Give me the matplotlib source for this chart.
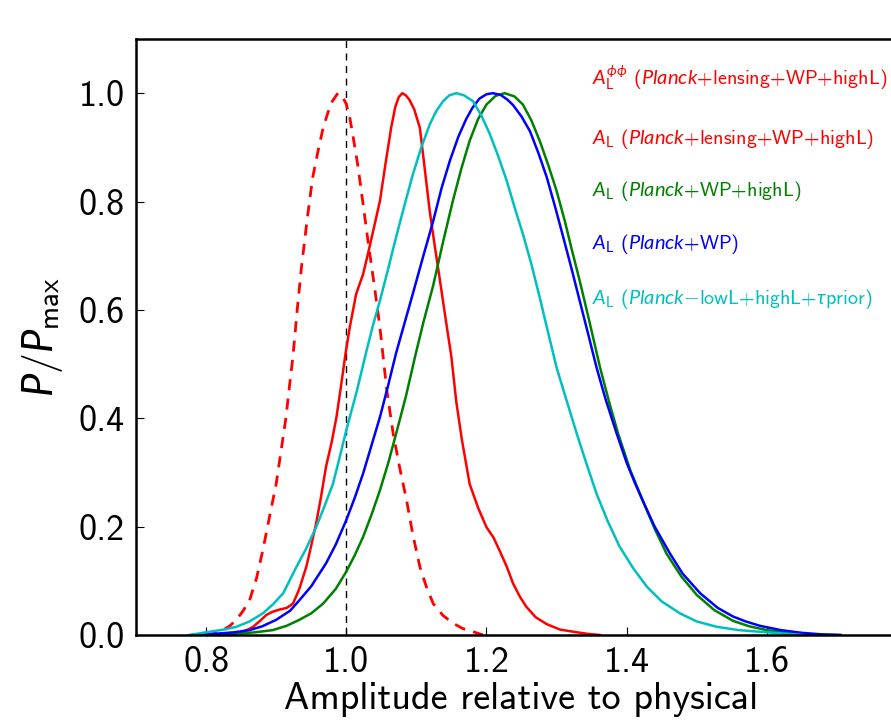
import matplotlib
matplotlib.use("Agg")
import matplotlib.pyplot as plt

plt.rcParams['mathtext.fontset'] = 'custom'
plt.rcParams['mathtext.rm'] = 'cmss10'
plt.rcParams['mathtext.it'] = 'Lato:italic'
plt.rcParams['mathtext.fallback'] = 'cm'
plt.rcParams['font.family'] = ['cmss10', 'DejaVu Sans']
plt.rcParams['axes.unicode_minus'] = False

# A_L^phiphi (Planck+lensing+WP+highL) -- dashed red
lens_x = [0.800, 0.815, 0.824, 0.834, 0.843, 0.852, 0.862, 0.872, 0.881, 0.890, 0.900,
          0.907, 0.914, 0.919, 0.924, 0.930, 0.936, 0.944, 0.952, 0.960, 0.967, 0.974,
          0.980, 0.988, 0.994, 1.000, 1.005, 1.011, 1.017, 1.024, 1.031, 1.040, 1.048,
          1.058, 1.067, 1.076, 1.086, 1.095, 1.105, 1.114, 1.124, 1.138, 1.152, 1.166,
          1.181, 1.195]
lens_y = [0.0, 0.004, 0.009, 0.017, 0.028, 0.043, 0.064, 0.105, 0.157, 0.215, 0.279,
          0.340, 0.402, 0.460, 0.515, 0.600, 0.678, 0.765, 0.844, 0.895, 0.936, 0.965,
          0.985, 1.0, 0.995, 0.980, 0.955, 0.910, 0.862, 0.795, 0.727, 0.645, 0.568,
          0.450, 0.371, 0.310, 0.249, 0.185, 0.126, 0.090, 0.058, 0.036, 0.022, 0.012,
          0.006, 0.0]

# A_L (Planck+lensing+WP+highL) -- solid red
red_x = [0.820, 0.835, 0.848, 0.858, 0.867, 0.876, 0.886, 0.895, 0.905, 0.915, 0.924,
         0.933, 0.943, 0.950, 0.957, 0.964, 0.971, 0.979, 0.986, 0.992, 0.999, 1.005,
         1.014, 1.024, 1.033, 1.040, 1.048, 1.056, 1.064, 1.070, 1.075, 1.080, 1.085,
         1.090, 1.097, 1.105, 1.112, 1.119, 1.126, 1.133, 1.141, 1.150, 1.157, 1.165,
         1.176, 1.188, 1.200, 1.210, 1.219, 1.229, 1.238, 1.248, 1.257, 1.270, 1.286,
         1.305, 1.324, 1.345, 1.362]
red_y = [0.0, 0.002, 0.004, 0.009, 0.015, 0.025, 0.037, 0.043, 0.047, 0.050, 0.058,
         0.085, 0.126, 0.165, 0.206, 0.255, 0.310, 0.355, 0.402, 0.455, 0.520, 0.568,
         0.629, 0.666, 0.715, 0.755, 0.801, 0.870, 0.936, 0.975, 0.993, 1.0, 0.996,
         0.988, 0.970, 0.936, 0.860, 0.783, 0.720, 0.660, 0.590, 0.513, 0.430, 0.360,
         0.279, 0.235, 0.199, 0.180, 0.155, 0.126, 0.095, 0.070, 0.052, 0.033, 0.020,
         0.010, 0.006, 0.002, 0.0]

# A_L (Planck+WP+highL) -- green
grn_x = [0.800, 0.840, 0.870, 0.895, 0.915, 0.933, 0.950, 0.967, 0.985, 1.000, 1.012,
         1.024, 1.036, 1.048, 1.060, 1.071, 1.085, 1.098, 1.110, 1.124, 1.138, 1.152,
         1.164, 1.176, 1.188, 1.200, 1.213, 1.226, 1.240, 1.252, 1.264, 1.276, 1.288,
         1.300, 1.312, 1.322, 1.333, 1.347, 1.362, 1.375, 1.388, 1.405, 1.424, 1.440,
         1.457, 1.478, 1.500, 1.525, 1.552, 1.575, 1.600, 1.630, 1.670, 1.705]
grn_y = [0.0, 0.002, 0.005, 0.009, 0.017, 0.028, 0.040, 0.058, 0.085, 0.117, 0.147,
         0.181, 0.222, 0.267, 0.318, 0.371, 0.440, 0.513, 0.577, 0.645, 0.725, 0.801,
         0.860, 0.912, 0.952, 0.979, 0.995, 1.0, 0.994, 0.979, 0.950, 0.912, 0.868,
         0.820, 0.763, 0.710, 0.654, 0.578, 0.494, 0.430, 0.371, 0.305, 0.245, 0.196,
         0.150, 0.108, 0.074, 0.046, 0.026, 0.016, 0.009, 0.004, 0.001, 0.0]

# A_L (Planck+WP) -- blue
blu_x = [0.780, 0.810, 0.840, 0.862, 0.880, 0.900, 0.920, 0.933, 0.950, 0.971, 0.985,
         1.000, 1.012, 1.024, 1.036, 1.048, 1.060, 1.071, 1.083, 1.095, 1.110, 1.124,
         1.136, 1.148, 1.160, 1.171, 1.180, 1.190, 1.200, 1.209, 1.220, 1.230, 1.238,
         1.250, 1.262, 1.274, 1.286, 1.298, 1.309, 1.321, 1.333, 1.345, 1.357, 1.370,
         1.386, 1.400, 1.412, 1.424, 1.440, 1.462, 1.480, 1.505, 1.530, 1.552, 1.570,
         1.590, 1.620, 1.650, 1.680, 1.705]
blu_y = [0.0, 0.002, 0.005, 0.009, 0.016, 0.028, 0.045, 0.064, 0.090, 0.132, 0.167,
         0.212, 0.253, 0.298, 0.350, 0.402, 0.462, 0.520, 0.575, 0.630, 0.700, 0.764,
         0.825, 0.876, 0.920, 0.952, 0.973, 0.990, 0.998, 1.0, 0.997, 0.988, 0.978,
         0.957, 0.930, 0.890, 0.845, 0.790, 0.737, 0.678, 0.617, 0.556, 0.494, 0.435,
         0.371, 0.318, 0.280, 0.245, 0.200, 0.150, 0.113, 0.077, 0.050, 0.034, 0.025,
         0.017, 0.009, 0.004, 0.001, 0.0]

# A_L (Planck-lowL+highL+tau prior) -- cyan
cyn_x = [0.776, 0.805, 0.825, 0.843, 0.862, 0.881, 0.895, 0.910, 0.929, 0.943, 0.957,
         0.969, 0.981, 0.990, 1.000, 1.015, 1.029, 1.038, 1.048, 1.060, 1.071, 1.083,
         1.095, 1.107, 1.119, 1.128, 1.138, 1.147, 1.157, 1.168, 1.181, 1.193, 1.205,
         1.217, 1.229, 1.240, 1.252, 1.264, 1.276, 1.288, 1.300, 1.315, 1.329, 1.343,
         1.357, 1.373, 1.390, 1.410, 1.429, 1.450, 1.476, 1.500, 1.529, 1.560, 1.590,
         1.620, 1.650]
cyn_y = [0.0, 0.006, 0.010, 0.015, 0.025, 0.040, 0.056, 0.077, 0.126, 0.160, 0.199,
         0.238, 0.279, 0.325, 0.378, 0.450, 0.525, 0.571, 0.617, 0.677, 0.734, 0.793,
         0.850, 0.900, 0.942, 0.966, 0.985, 0.996, 1.0, 0.996, 0.985, 0.958, 0.924,
         0.883, 0.838, 0.790, 0.740, 0.685, 0.623, 0.558, 0.494, 0.430, 0.371, 0.315,
         0.261, 0.210, 0.163, 0.122, 0.089, 0.062, 0.040, 0.025, 0.015, 0.009, 0.006,
         0.003, 0.0]

labels = [r'$A_{\rm L}^{\phi\phi}$ ($Planck$+lensing+WP+highL)',
          r'$A_{\rm L}$ ($Planck$+lensing+WP+highL)',
          r'$A_{\rm L}$ ($Planck$+WP+highL)',
          r'$A_{\rm L}$ ($Planck$+WP)',
          r'$A_{\rm L}$ ($Planck$$-$lowL+highL+$\tau$prior)']
label_colors = ['#ff0000', '#ff0000', 'green', 'blue', '#00bfbf']
label_y = [1.028, 0.915, 0.82, 0.722, 0.62]

xticks = [0.8, 1.0, 1.2, 1.4, 1.6]
yticks = [0.0, 0.2, 0.4, 0.6, 0.8, 1.0]

fig = plt.figure(figsize=(8.91, 7.22), dpi=100)
ax = fig.add_axes([136/891, 87/722, 771/891, 596/722])

ax.axvline(1.0, color='k', lw=1.0, ls=(0, (5, 4)))
ax.plot(lens_x, lens_y, color='#ff0000', lw=2, ls=(0, (4, 3)))
ax.plot(red_x, red_y, color='#ff0000', lw=1.8)
ax.plot(grn_x, grn_y, color='green', lw=1.8)
ax.plot(blu_x, blu_y, color='blue', lw=1.8)
ax.plot(cyn_x, cyn_y, color='#00bfbf', lw=1.8)

for lab, c, yy in zip(labels, label_colors, label_y):
    ax.text(1.35, yy, lab, color=c, fontsize=14.5, va='center', ha='left')

ax.set_xlim(0.7, 1.8)
ax.set_ylim(0.0, 1.1)
ax.set_xticks(xticks)
ax.set_yticks(yticks)
ax.set_xticklabels(['%.1f' % v for v in xticks])
ax.set_yticklabels(['%.1f' % v for v in yticks])
ax.tick_params(direction='in', length=6, width=0.8, labelsize=26, pad=8)
for s in ax.spines.values():
    s.set_linewidth(1.8)
ax.spines['right'].set_visible(False)

ax.set_xlabel('Amplitude relative to physical', fontsize=27.5, labelpad=2)
ax.set_ylabel(r'$P/P_{\rm max}$', fontsize=30, labelpad=10)

fig.savefig('out.png', dpi=100)
